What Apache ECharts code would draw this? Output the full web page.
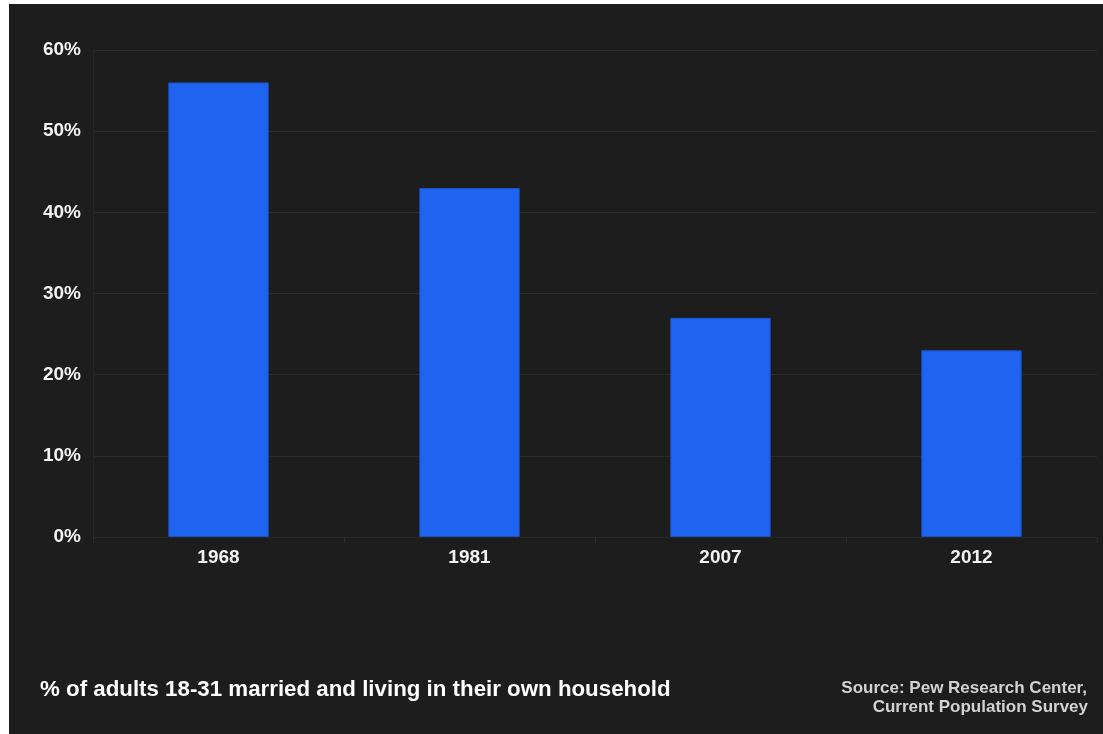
<!DOCTYPE html>
<html>
<head>
<meta charset="utf-8">
<script src="https://cdn.jsdelivr.net/npm/echarts@6/dist/echarts.min.js"></script>
<style>
html,body{margin:0;padding:0;background:#ffffff;}
#wrap{position:absolute;left:0;top:0;width:1103px;height:734px;background:#ffffff;}
#chart{position:absolute;left:9px;top:4px;width:1094px;height:730px;background:#1d1d1d;}
</style>
</head>
<body>
<div id="wrap"><div id="chart"></div></div>
<script>
const categories = ['1968', '1981', '2007', '2012'];
const values = [56, 43, 27, 23];
const yTicks = [0, 10, 20, 30, 40, 50, 60];
const titleText = '% of adults 18-31 married and living in their own household';
const sourceLines = ['Source: Pew Research Center,', 'Current Population Survey'];

const chart = echarts.init(document.getElementById('chart'), null, {renderer: 'canvas'});
chart.setOption({
  backgroundColor: '#1d1d1d',
  animation: false,
  grid: {left: 84, right: 6, top: 46, bottom: 197, containLabel: false},
  xAxis: {
    type: 'category',
    data: categories,
    axisLine: {show: true, lineStyle: {color: '#262626', width: 1}},
    axisTick: {show: true, length: 6, lineStyle: {color: '#2c2c2c'}},
    axisLabel: {color: '#f2f2f2', fontFamily: 'Liberation Sans', fontSize: 19, fontWeight: 'bold', margin: 11}
  },
  yAxis: {
    type: 'value',
    min: yTicks[0],
    max: yTicks[yTicks.length - 1],
    interval: 10,
    axisLine: {show: true, lineStyle: {color: '#262626', width: 1}},
    axisTick: {show: false},
    splitLine: {show: true, lineStyle: {color: '#2b2b2b', width: 1}},
    axisLabel: {color: '#f2f2f2', fontFamily: 'Liberation Sans', fontSize: 19, fontWeight: 'bold', margin: 12, formatter: v => v + '%'}
  },
  series: [{
    type: 'bar',
    data: values,
    barWidth: '40%',
    itemStyle: {color: '#1e64f0', borderColor: '#1b52c4', borderWidth: 1}
  }],
  graphic: [
    {type: 'text', left: 31, top: 675, style: {text: titleText, fill: '#ffffff', font: 'bold 22.3px "Liberation Sans"'}},
    {type: 'text', right: 16, top: 676, style: {text: sourceLines[0], fill: '#d2d2d2', font: 'bold 17px "Liberation Sans"'}},
    {type: 'text', right: 15, top: 695, style: {text: sourceLines[1], fill: '#d2d2d2', font: 'bold 17px "Liberation Sans"'}}
  ]
});
</script>
</body>
</html>
